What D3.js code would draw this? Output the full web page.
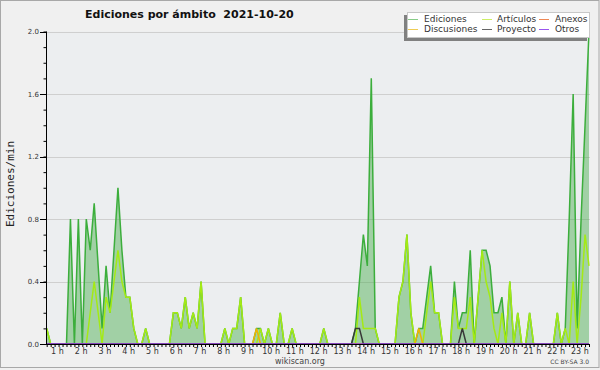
<!DOCTYPE html>
<html><head><meta charset="utf-8">
<script src="https://cdn.jsdelivr.net/npm/d3@7"></script>
<style>html,body{margin:0;padding:0;background:#f0f0f0;}svg{display:block;}</style>
</head><body>
<svg id="c" width="600" height="370"></svg>
<script>
// ---- data: 10-minute bins, edits per minute ----
const startMinute = 33;   // time of first bin (minutes after 0 h)
const stepMinutes = 10;
const hourLabels = ["1 h","2 h","3 h","4 h","5 h","6 h","7 h","8 h","9 h","10 h","11 h","12 h","13 h","14 h","15 h","16 h","17 h","18 h","19 h","20 h","21 h","22 h","23 h"];
const yTicks = [0.0,0.4,0.8,1.2,1.6,2.0];
const seriesNames = ["Ediciones","Artículos","Anexos","Discusiones","Proyecto","Otros"];

const ediciones = [
 0.1,0,0,0,0,0,0.8,0,0.8,0,
 0.8,0.6,0.9,0.5,0.1,0.5,0.2,0.6,1.0,0.6,
 0.3,0.3,0.1,0,0,0.1,0,0,0,0,
 0,0,0.2,0.2,0.1,0.3,0.1,0.2,0.1,0.4,
 0,0,0,0,0,0.1,0,0.1,0.1,0.3,
 0,0,0,0.1,0.1,0,0.1,0,0,0.2,
 0,0,0.1,0,0,0,0,0,0,0,
 0.1,0,0,0,0,0,0,0,0.1,0.4,
 0.7,0.5,1.7,0.1,0,0,0,0,0,0.3,
 0.4,0.7,0.2,0,0.1,0.1,0.3,0.5,0.2,0.2,
 0,0,0,0.4,0.1,0.2,0.2,0.6,0,0.3,
 0.6,0.6,0.5,0.2,0.2,0.3,0,0.4,0,0.2,
 0,0,0.2,0,0,0,0,0,0,0.2,
 0,0.1,0.8,1.6,0.1,0.8,1.4,2.0];
const articulos = [
 0.1,0,0,0,0,0,0,0,0,0,
 0,0.2,0.4,0.2,0,0.3,0.2,0.4,0.6,0.4,
 0.3,0.3,0.1,0,0,0.1,0,0,0,0,
 0,0,0.2,0.2,0.1,0.3,0.1,0.2,0.1,0.4,
 0,0,0,0,0,0.1,0,0.1,0.1,0.3,
 0,0,0,0,0.1,0,0.1,0,0,0.2,
 0,0,0.1,0,0,0,0,0,0,0,
 0.1,0,0,0,0,0,0,0,0,0.3,
 0.1,0.1,0.1,0.1,0,0,0,0,0,0.3,
 0.4,0.7,0.2,0,0,0,0.2,0.4,0.2,0.2,
 0,0,0,0.3,0.1,0.1,0.1,0.3,0,0.3,
 0.6,0.4,0.3,0.1,0,0.2,0,0.4,0,0.2,
 0,0,0.2,0,0,0,0,0,0,0.2,
 0,0.1,0,0.4,0,0.3,0.7,0.5];
const anexos = [
 0,0,0,0,0,0,0,0,0,0, 0,0,0,0,0,0,0,0,0,0, 0,0,0,0,0,0,0,0,0,0,
 0,0,0,0,0,0,0,0,0,0, 0,0,0,0,0,0,0,0,0,0, 0,0,0,0,0,0,0,0,0,0,
 0,0,0,0,0,0,0,0,0,0, 0,0,0,0,0,0,0,0,0,0, 0,0,0,0,0,0,0,0,0,0,
 0,0,0,0,0,0,0,0,0,0, 0,0,0,0,0,0,0,0,0,0, 0,0,0,0,0,0,0,0,0,0,
 0,0,0,0,0,0,0,0,0,0, 0,0,0,0,0,0,0,0];
const discusiones = [
 0,0,0,0,0,0,0,0,0,0, 0,0,0,0,0,0,0,0,0,0, 0,0,0,0,0,0,0,0,0,0,
 0,0,0,0,0,0,0,0,0,0, 0,0,0,0,0,0,0,0,0,0, 0,0,0,0.1,0,0,0,0,0,0,
 0,0,0,0,0,0,0,0,0,0, 0,0,0,0,0,0,0,0,0,0, 0,0,0,0,0,0,0,0,0,0,
 0,0,0,0,0.1,0,0,0,0,0, 0,0,0,0,0,0,0,0,0,0, 0,0,0,0,0,0,0,0,0,0,
 0,0,0,0,0,0,0,0,0,0, 0,0,0,0,0,0,0,0];
const proyecto = [
 0,0,0,0,0,0,0,0,0,0, 0,0,0,0,0,0,0,0,0,0, 0,0,0,0,0,0,0,0,0,0,
 0,0,0,0,0,0,0,0,0,0, 0,0,0,0,0,0,0,0,0,0, 0,0,0,0,0,0,0,0,0,0,
 0,0,0,0,0,0,0,0,0,0, 0,0,0,0,0,0,0,0,0.1,0.1, 0,0,0,0,0,0,0,0,0,0,
 0,0,0,0,0,0,0,0,0,0, 0,0,0,0,0,0.1,0,0,0,0, 0,0,0,0,0,0,0,0,0,0,
 0,0,0,0,0,0,0,0,0,0, 0,0,0,0,0,0,0,0];
const otros = [
 0,0,0,0,0,0,0,0,0,0, 0,0,0,0,0,0,0,0,0,0, 0,0,0,0,0,0,0,0,0,0,
 0,0,0,0,0,0,0,0,0,0, 0,0,0,0,0,0,0,0,0,0, 0,0,0,0,0,0,0,0,0,0,
 0,0,0,0,0,0,0,0,0,0, 0,0,0,0,0,0,0,0,0,0, 0,0,0,0,0,0,0,0,0,0,
 0,0,0,0,0,0,0,0,0,0, 0,0,0,0,0,0,0,0,0,0, 0,0,0,0,0,0,0,0,0,0,
 0,0,0,0,0,0,0,0,0,0, 0,0,0,0,0,0,0,0];

// ---- styling ----
const lineColors = ["#3cae3c","#a4ea14","#f07840","#f0b400","#383838","#9040e8"];
const legendColors = ["#88cc88","#cdee66","#ee8855","#eecc55","#666666","#9955ee"];
const seriesData = [ediciones, articulos, anexos, discusiones, proyecto, otros];

const svg = d3.select("#c");
const L = 46, R = 590, T = 31.5, B = 344;
const n = ediciones.length;
const minutes = d3.range(n).map(i => startMinute + i*stepMinutes);
const x = d3.scaleLinear().domain([minutes[0], minutes[n-1]]).range([46.7, 589]);
const y = d3.scaleLinear().domain([0, 2]).range([B, T]);

svg.append("rect").attr("x",0).attr("y",0).attr("width",600).attr("height",370).attr("fill","#f0f0f0");
svg.append("rect").attr("x",0.5).attr("y",0.5).attr("width",598.5).attr("height",367).attr("fill","none").attr("stroke","#a8a8a8");
svg.append("rect").attr("x",L).attr("y",T).attr("width",R-L).attr("height",B-T).attr("fill","#eceef0");

// grid
svg.append("g").selectAll("line").data(yTicks.filter(d=>d>0)).join("line")
  .attr("x1",L).attr("x2",R).attr("y1",d=>Math.round(y(d))+0.5).attr("y2",d=>Math.round(y(d))+0.5)
  .attr("stroke","#cfcfcf").attr("stroke-width",1);

// area for total
const area = d3.area().x((d,i)=>x(minutes[i])).y0(B).y1(d=>y(d));
svg.append("path").datum(ediciones).attr("d",area).attr("fill","#4caf50").attr("fill-opacity",0.47);

const line = d3.line().x((d,i)=>x(minutes[i])).y(d=>y(d));
seriesData.forEach((s,k)=>{
  svg.append("path").datum(s).attr("d",line).attr("fill","none")
    .attr("stroke",lineColors[k]).attr("stroke-width",1.5).attr("stroke-linejoin","miter");
});

// axes
const yAxis = d3.axisLeft(y).tickValues(d3.range(0,21).map(v=>v/10)).tickSize(3).tickFormat("");
const gy = svg.append("g").attr("transform",`translate(${L+0.5},0)`).call(yAxis);
gy.select(".domain").remove();
gy.selectAll(".tick line").attr("stroke","#000");
svg.append("g").selectAll("line").data(yTicks).join("line")
  .attr("x1",L-6).attr("x2",L).attr("y1",d=>Math.round(y(d))+0.5).attr("y2",d=>Math.round(y(d))+0.5).attr("stroke","#000");
svg.append("g").selectAll("text").data(yTicks).join("text")
  .attr("x",39).attr("y",d=>y(d)+2.5).attr("text-anchor","end")
  .attr("font-family","DejaVu Sans").attr("font-size",7).attr("fill","#333")
  .text(d=>d.toFixed(1));

const xAxis = d3.axisBottom(x).tickValues(minutes).tickSize(3).tickFormat("");
const gx = svg.append("g").attr("transform",`translate(0,${B})`).call(xAxis);
gx.select(".domain").remove();
gx.selectAll(".tick line").attr("stroke","#000");
svg.append("g").selectAll("text").data(hourLabels).join("text")
  .attr("x",(d,i)=>x((i+1)*60)).attr("y",354).attr("text-anchor","middle")
  .attr("font-family","DejaVu Sans").attr("font-size",8).attr("fill","#333")
  .text(d=>d);

svg.append("line").attr("x1",L+0.5).attr("x2",L+0.5).attr("y1",T).attr("y2",B+0.5).attr("stroke","#000");
svg.append("line").attr("x1",L).attr("x2",R).attr("y1",B+0.5).attr("y2",B+0.5).attr("stroke","#000");

// titles
svg.append("text").attr("x",85).attr("y",18).attr("font-family","DejaVu Sans").attr("font-weight","bold")
  .attr("font-size",11).attr("fill","#111").style("white-space","pre").text("Ediciones por ámbito  2021-10-20");
svg.append("text").attr("transform","translate(14,184) rotate(-90)").attr("text-anchor","middle")
  .attr("font-family","DejaVu Sans Mono").attr("font-size",11).attr("fill","#222").text("Ediciones/min");
svg.append("text").attr("x",300).attr("y",364).attr("text-anchor","middle")
  .attr("font-family","DejaVu Sans").attr("font-size",8).attr("fill","#444").text("wikiscan.org");
svg.append("text").attr("x",589).attr("y",364).attr("text-anchor","end")
  .attr("font-family","DejaVu Sans").attr("font-size",6).attr("fill","#444").text("CC BY-SA 3.0");

// legend
svg.append("rect").attr("x",404).attr("y",15).attr("width",183).attr("height",26).attr("fill","#808080");
svg.append("rect").attr("x",407.5).attr("y",12.5).attr("width",182).attr("height",25).attr("fill","#fff").attr("stroke","#c8c8c8");
const legX = [408,482,539], legY = [19,29], legT = [424,497,555];
seriesNames.forEach((name,k)=>{
  const col = k%3, row = Math.floor(k/3);
  svg.append("line").attr("x1",legX[col]).attr("x2",legX[col]+10).attr("y1",legY[row]+0.5).attr("y2",legY[row]+0.5)
    .attr("stroke",legendColors[k]).attr("stroke-width",1);
  svg.append("text").attr("x",legT[col]).attr("y",legY[row]+3).attr("font-family","DejaVu Sans").attr("font-size",9)
    .attr("fill","#333").text(name);
});
</script>
</body></html>
